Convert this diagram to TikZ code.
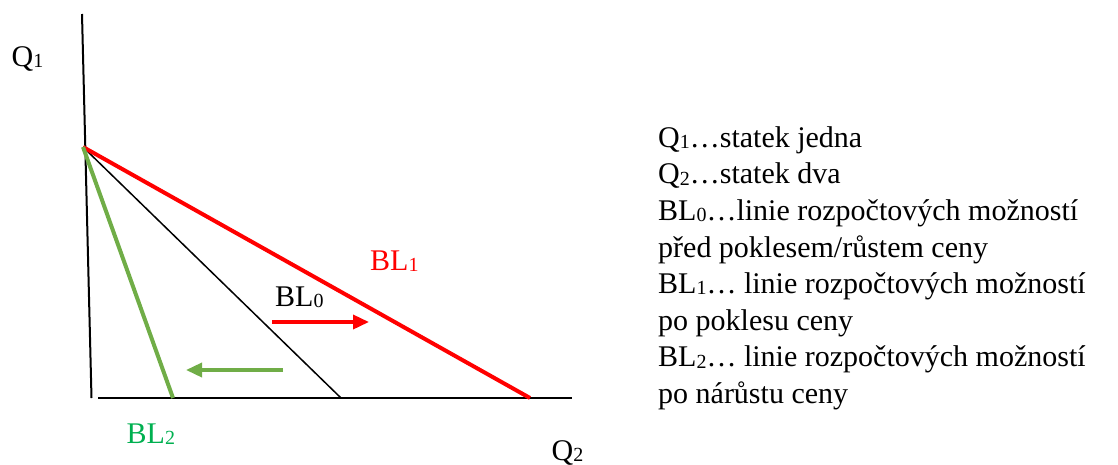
\documentclass[tikz,border=0pt]{standalone}
\usepackage{fontspec}
\setmainfont{Liberation Serif}
\usepackage{xcolor}
\usetikzlibrary{arrows.meta,positioning}

\definecolor{linegreen}{RGB}{112,173,71}
\definecolor{labelgreen}{RGB}{0,176,80}

\newcommand{\lowdigit}[1]{\raisebox{-0.04em}{\fontsize{20}{20}\selectfont #1}}

\tikzset{
  lbl/.style={inner sep=0pt,anchor=base west,font=\fontsize{30}{36.6}\selectfont},
  axis/.style={line width=2pt},
  shiftarrow/.style={line width=3.5pt,-{Triangle[length=16pt,width=14pt]}}
}

\begin{document}
\begin{tikzpicture}[x=1pt,y=-1pt]
\useasboundingbox (0,0) rectangle (1118,464);
        % axes
\coordinate (ytop) at (82,14);
\coordinate (ybot) at (91.5,398);
\coordinate (xleft) at (98,398);
\coordinate (xright) at (572,398);
\draw[axis] (ytop) -- (ybot);
\draw[axis] (xleft) -- (xright);
\node[lbl] (q1) at (11.5,66.5) {Q\lowdigit{1}};
\node[lbl] (q2) at (551.5,460.5) {Q\lowdigit{2}};

        % budget lines
\coordinate (apex) at (83,147);
\coordinate (end0) at (341,398);
\coordinate (end1) at (530,398);
\coordinate (end2) at (173,398);
\draw[line width=1.5pt] (apex) -- (end0);
\draw[red,line width=4pt] (apex) -- (end1);
\draw[linegreen,line width=4pt] (apex) -- (end2);

\node[lbl] (bl0) at (275,306.5) {BL\lowdigit{0}};
\node[lbl,red] (bl1) at (370,270) {BL\lowdigit{1}};
\node[lbl,labelgreen] (bl2) at (126.5,443) {BL\lowdigit{2}};

        % shifts
\coordinate (r0) at (272,322);
\coordinate (r1) at (369,322);
\coordinate (g0) at (283,370);
\coordinate (g1) at (186,370);
\draw[shiftarrow,red] (r0) -- (r1);
\draw[shiftarrow,linegreen] (g0) -- (g1);

        % legend (anchored at the baseline of its last line)
\node[lbl,align=left] (legend) at (658,403.5) {Q\lowdigit{1}…statek jedna\\
Q\lowdigit{2}…statek dva\\
BL\lowdigit{0}…linie rozpočtových možností\\
před poklesem/růstem ceny\\
BL\lowdigit{1}… linie rozpočtových možností\\
po poklesu ceny\\
BL\lowdigit{2}… linie rozpočtových možností\\
po nárůstu ceny};
    \end{tikzpicture}
\end{document}
